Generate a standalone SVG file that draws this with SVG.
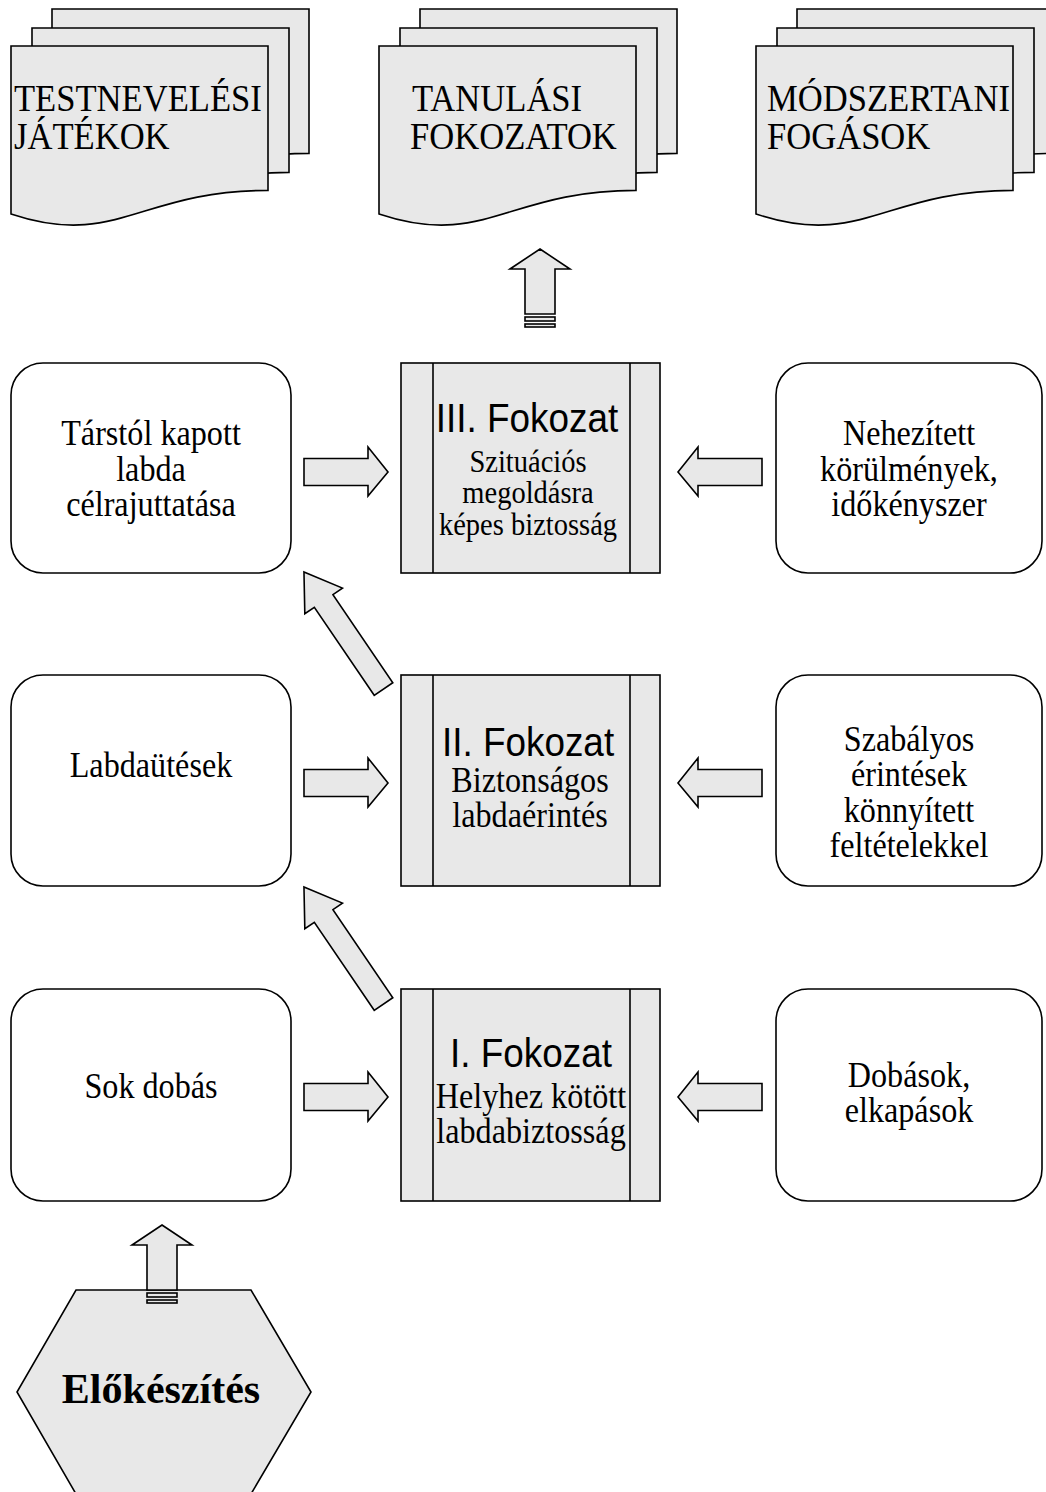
<svg xmlns="http://www.w3.org/2000/svg" width="1046" height="1492" viewBox="0 0 1046 1492">
  <style>
    .shape { fill: #e8e8e8; stroke: #000; stroke-width: 1.6; stroke-linejoin: miter; }
    .box { fill: #fff; stroke: #000; stroke-width: 1.6; }
    .line { fill: none; stroke: #000; stroke-width: 1.6; }
    .doc { font-family: "Liberation Serif", "Times New Roman", serif; font-size: 38px; fill: #000; }
    .body { font-family: "Liberation Serif", "Times New Roman", serif; font-size: 35px; fill: #000; text-anchor: middle; }
    .small { font-size: 31px; }
    .head { font-family: "Liberation Sans", Arial, sans-serif; font-size: 41px; fill: #000; text-anchor: middle; }
    .hex { font-family: "Liberation Serif", "Times New Roman", serif; font-size: 42px; font-weight: bold; fill: #000; text-anchor: middle; }
  </style>
  <defs>
    <!-- single page of a stacked document: 257 wide, wavy bottom edge -->
    <path id="page" d="M0,0 H257 V144.4 C128.5,144.4 105,203 0,168 Z"/>
    <!-- horizontal block arrow pointing right, tip at (0,0) -->
    <polygon id="arrowR" points="-84,-13.5 -20,-13.5 -20,-25 0,0 -20,24 -20,13.5 -84,13.5"/>
    <!-- diagonal block arrow, tail at origin, pointing along +x -->
    <polygon id="arrowD" points="0,-11.25 106.5,-11.25 106.5,-22.75 141.5,0 106.5,22.75 106.5,11.25 0,11.25"/>
    <!-- striped block arrow pointing up, tip at (0,0) -->
    <g id="arrowU">
      <polygon points="0,0 30,20 15,20 15,65 -15,65 -15,20 -30,20"/>
      <rect x="-15" y="68" width="30" height="4"/>
      <rect x="-15" y="75" width="30" height="3"/>
    </g>
  </defs>

  <!-- stacked documents -->
  <g id="doc-testneveles">
    <use href="#page" x="52" y="9" class="shape"/>
    <use href="#page" x="32" y="28" class="shape"/>
    <use href="#page" x="11" y="46" class="shape"/>
    <text class="doc" transform="translate(14,111) scale(.91,1)">TESTNEVELÉSI</text>
    <text class="doc" transform="translate(14,149) scale(.91,1)">JÁTÉKOK</text>
  </g>
  <g id="doc-tanulasi">
    <use href="#page" x="420" y="9" class="shape"/>
    <use href="#page" x="400" y="28" class="shape"/>
    <use href="#page" x="379" y="46" class="shape"/>
    <text class="doc" transform="translate(412,111) scale(.91,1)">TANULÁSI</text>
    <text class="doc" transform="translate(410,149) scale(.91,1)">FOKOZATOK</text>
  </g>
  <g id="doc-modszertani">
    <use href="#page" x="797" y="9" class="shape"/>
    <use href="#page" x="777" y="28" class="shape"/>
    <use href="#page" x="756" y="46" class="shape"/>
    <text class="doc" transform="translate(767,111) scale(.91,1)">MÓDSZERTANI</text>
    <text class="doc" transform="translate(767,149) scale(.91,1)">FOGÁSOK</text>
  </g>

  <!-- left column -->
  <g id="left-3">
    <rect class="box" x="11" y="363" width="280" height="210" rx="32"/>
    <text class="body" transform="translate(151,445) scale(.92,1)">Társtól kapott</text>
    <text class="body" transform="translate(151,481) scale(.92,1)">labda</text>
    <text class="body" transform="translate(151,516) scale(.92,1)">célrajuttatása</text>
  </g>
  <g id="left-2">
    <rect class="box" x="11" y="675" width="280" height="211" rx="32"/>
    <text class="body" transform="translate(151,777) scale(.92,1)">Labdaütések</text>
  </g>
  <g id="left-1">
    <rect class="box" x="11" y="989" width="280" height="212" rx="32"/>
    <text class="body" transform="translate(151,1098) scale(.92,1)">Sok dobás</text>
  </g>

  <!-- stage boxes -->
  <g id="stage-3">
    <rect class="shape" x="401" y="363" width="259" height="210"/>
    <line class="line" x1="433" y1="363" x2="433" y2="573"/>
    <line class="line" x1="630" y1="363" x2="630" y2="573"/>
    <text class="head" transform="translate(527,432) scale(.9,1)">III. Fokozat</text>
    <text class="body small" transform="translate(528,472) scale(.92,1)">Szituációs</text>
    <text class="body small" transform="translate(528,503) scale(.92,1)">megoldásra</text>
    <text class="body small" transform="translate(528,535) scale(.92,1)">képes biztosság</text>
  </g>
  <g id="stage-2">
    <rect class="shape" x="401" y="675" width="259" height="211"/>
    <line class="line" x1="433" y1="675" x2="433" y2="886"/>
    <line class="line" x1="630" y1="675" x2="630" y2="886"/>
    <text class="head" transform="translate(528,756) scale(.9,1)">II. Fokozat</text>
    <text class="body" transform="translate(530,792) scale(.92,1)">Biztonságos</text>
    <text class="body" transform="translate(530,827) scale(.92,1)">labdaérintés</text>
  </g>
  <g id="stage-1">
    <rect class="shape" x="401" y="989" width="259" height="212"/>
    <line class="line" x1="433" y1="989" x2="433" y2="1201"/>
    <line class="line" x1="630" y1="989" x2="630" y2="1201"/>
    <text class="head" transform="translate(531,1067) scale(.9,1)">I. Fokozat</text>
    <text class="body" transform="translate(531,1108) scale(.92,1)">Helyhez kötött</text>
    <text class="body" transform="translate(531,1143) scale(.92,1)">labdabiztosság</text>
  </g>

  <!-- right column -->
  <g id="right-3">
    <rect class="box" x="776" y="363" width="266" height="210" rx="32"/>
    <text class="body" transform="translate(909,445) scale(.92,1)">Nehezített</text>
    <text class="body" transform="translate(909,481) scale(.92,1)">körülmények,</text>
    <text class="body" transform="translate(909,516) scale(.92,1)">időkényszer</text>
  </g>
  <g id="right-2">
    <rect class="box" x="776" y="675" width="266" height="211" rx="32"/>
    <text class="body" transform="translate(909,751) scale(.92,1)">Szabályos</text>
    <text class="body" transform="translate(909,786) scale(.92,1)">érintések</text>
    <text class="body" transform="translate(909,822) scale(.92,1)">könnyített</text>
    <text class="body" transform="translate(909,857) scale(.92,1)">feltételekkel</text>
  </g>
  <g id="right-1">
    <rect class="box" x="776" y="989" width="266" height="212" rx="32"/>
    <text class="body" transform="translate(909,1087) scale(.92,1)">Dobások,</text>
    <text class="body" transform="translate(909,1122) scale(.92,1)">elkapások</text>
  </g>

  <!-- preparation hexagon -->
  <g id="elokeszites">
    <polygon class="shape" points="76,1290 251,1290 311,1392 251,1494 76,1494 17,1392"/>
    <text class="hex" x="161" y="1403">Előkészítés</text>
  </g>

  <!-- connectors -->
  <g id="connectors" class="shape">
    <use href="#arrowU" x="540" y="249"/>
    <use href="#arrowU" x="162" y="1225"/>

    <use href="#arrowR" x="388" y="472"/>
    <use href="#arrowR" x="388" y="783"/>
    <use href="#arrowR" x="388" y="1097"/>

    <use href="#arrowR" transform="translate(678,472) scale(-1,1)"/>
    <use href="#arrowR" transform="translate(678,783) scale(-1,1)"/>
    <use href="#arrowR" transform="translate(678,1097) scale(-1,1)"/>

    <use href="#arrowD" transform="translate(383.5,689) rotate(-124.2)"/>
    <use href="#arrowD" transform="translate(383.5,1004) rotate(-124.2)"/>
  </g>
</svg>
